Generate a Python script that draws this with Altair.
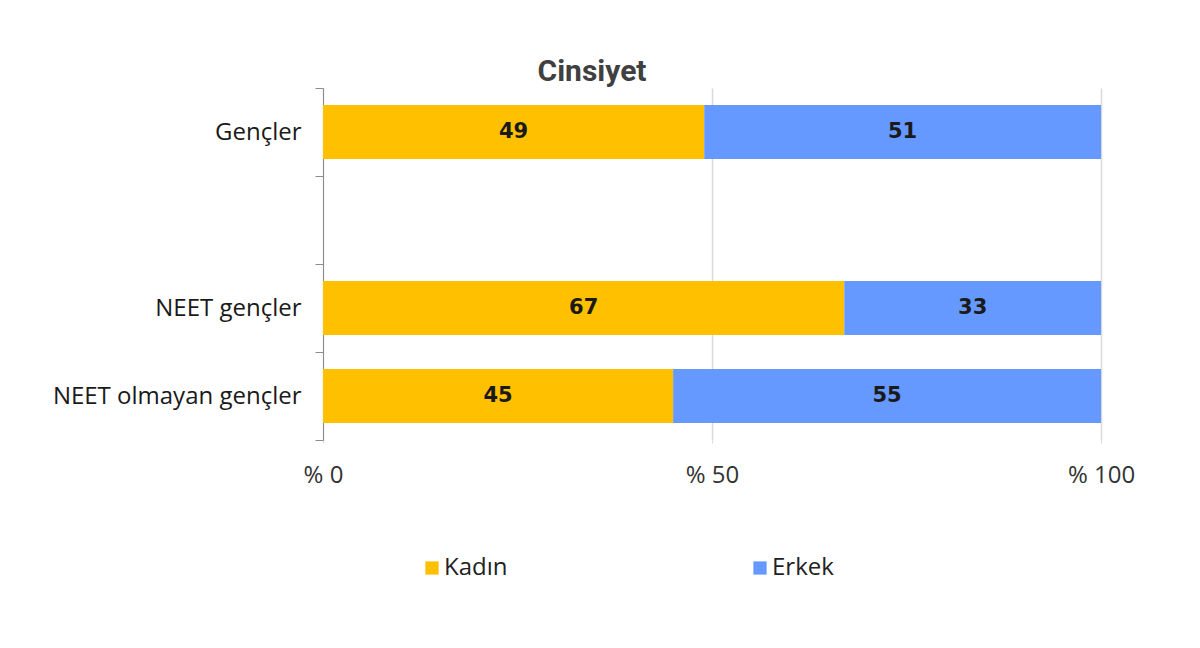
import altair as alt
import pandas as pd

categories = ["Gençler", " ", "NEET gençler", "NEET olmayan gençler"]
groups = ["Gençler", "NEET gençler", "NEET olmayan gençler"]
kadin = [49, 67, 45]
erkek = [51, 33, 55]
series = ["Kadın", "Erkek"]
colors = ["#FFC000", "#6699FF"]
x_ticks = [0, 50, 100]

rows = []
for g, k, e in zip(groups, kadin, erkek):
    rows.append({"grup": g, "cinsiyet": "Kadın", "deger": k, "sira": 0})
    rows.append({"grup": g, "cinsiyet": "Erkek", "deger": e, "sira": 1})
df = pd.DataFrame(rows)

y_enc = alt.Y(
    "grup:N",
    scale=alt.Scale(domain=categories, paddingInner=0, paddingOuter=0),
    axis=alt.Axis(
        title=None,
        tickBand="extent",
        domainColor="#8c8c8c",
        tickColor="#8c8c8c",
        tickSize=8,
        labelFontSize=24,
        labelFont="Open Sans",
        labelColor="#1a1a1a",
        labelPadding=14,
        labelLimit=400,
    ),
)

x_enc = alt.X(
    "deger:Q",
    stack="zero",
    scale=alt.Scale(domain=[0, 100], nice=False),
    axis=alt.Axis(
        title=None,
        values=x_ticks,
        labelExpr="'% ' + datum.value",
        labelFontSize=24,
        labelFont="Open Sans",
        labelColor="#333333",
        labelPadding=20,
        labelFlush=False,
        grid=True,
        gridColor="#d9d9d9",
        gridWidth=1.5,
        domain=False,
        tickColor="#d9d9d9",
        tickSize=3,
    ),
)

base = alt.Chart(df).encode(
    y=y_enc,
    x=x_enc,
    order=alt.Order("sira:Q"),
)

bars = base.mark_bar(size=54).encode(
    color=alt.Color(
        "cinsiyet:N",
        scale=alt.Scale(domain=series, range=colors),
        legend=alt.Legend(
            title=None,
            orient="none",
            legendX=97,
            legendY=468,
            direction="horizontal",
            symbolType="square",
            symbolSize=175,
            symbolStrokeWidth=0,
            labelFontSize=24,
            labelFont="Open Sans",
            labelColor="#222222",
            columnPadding=240,
            labelOffset=0,
            padding=0,
        ),
    )
)

labels = base.mark_text(
    font="DejaVu Sans", fontWeight="bold", fontSize=21, color="#1a1a1a"
).encode(
    x=alt.X("mid:Q"),
    text=alt.Text("deger:Q"),
).transform_stack(
    stack="deger", groupby=["grup"], as_=["x0", "x1"], sort=[alt.SortField("sira")]
).transform_calculate(mid="(datum.x0 + datum.x1) / 2")

chart = alt.layer(bars, labels).properties(
    width=778,
    height=352,
    title=alt.TitleParams(
        "Cinsiyet",
        font="Roboto",
        fontSize=30,
        fontWeight="bold",
        color="#404040",
        anchor="middle",
        baseline="alphabetic",
        dx=-120,
        dy=41,
        offset=6,
    ),
    autosize=alt.AutoSizeParams(type="none"),
    padding={"left": 315, "top": 80, "right": 90, "bottom": 150},
).configure(background="white", view=alt.ViewConfig(stroke=None))

chart.save("out.html", embed_options={"renderer": "svg", "actions": False})
